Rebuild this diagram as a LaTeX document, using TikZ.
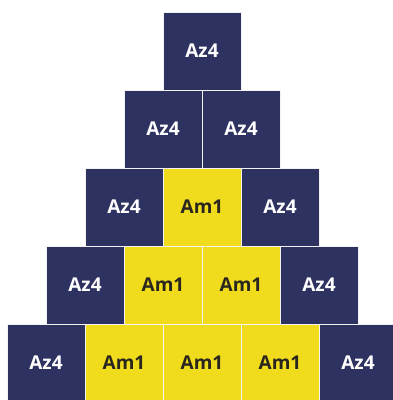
\documentclass[tikz,border=0pt]{standalone}
\usepackage{fontspec}
\setmainfont{Open Sans}
\definecolor{navy}{RGB}{46,50,96}
\definecolor{yel}{RGB}{240,220,28}
\definecolor{darktxt}{RGB}{40,38,30}
\begin{document}
\begin{tikzpicture}[x=1pt,y=1pt,
  cell/.style={minimum width=78pt,minimum height=78pt,inner sep=0pt,draw=white!90!gray,line width=0.7pt,font=\fontsize{19}{22}\selectfont\bfseries},
  az/.style={cell,fill=navy,text=white},
  am/.style={cell,fill=yel,text=darktxt}]
\useasboundingbox (0,0) rectangle (393,400);
\clip (0,0) rectangle (393,400);
\fill[white] (0,0) rectangle (393,400);
% row 1
\node[az] (r1c1) at (202,349) {Az4};
% row 2
\node[az] (r2c1) at (163,271) {Az4};
\node[az] (r2c2) at (241,271) {Az4};
% row 3
\node[az] (r3c1) at (124,193) {Az4};
\node[am] (r3c2) at (202,193) {Am1};
\node[az] (r3c3) at (280,193) {Az4};
% row 4
\node[az] (r4c1) at (85,115) {Az4};
\node[am] (r4c2) at (163,115) {Am1};
\node[am] (r4c3) at (241,115) {Am1};
\node[az] (r4c4) at (319,115) {Az4};
% row 5
\node[az] (r5c1) at (46,37) {Az4};
\node[am] (r5c2) at (124,37) {Am1};
\node[am] (r5c3) at (202,37) {Am1};
\node[am] (r5c4) at (280,37) {Am1};
\node[az] (r5c5) at (358,37) {Az4};
\end{tikzpicture}
\end{document}
